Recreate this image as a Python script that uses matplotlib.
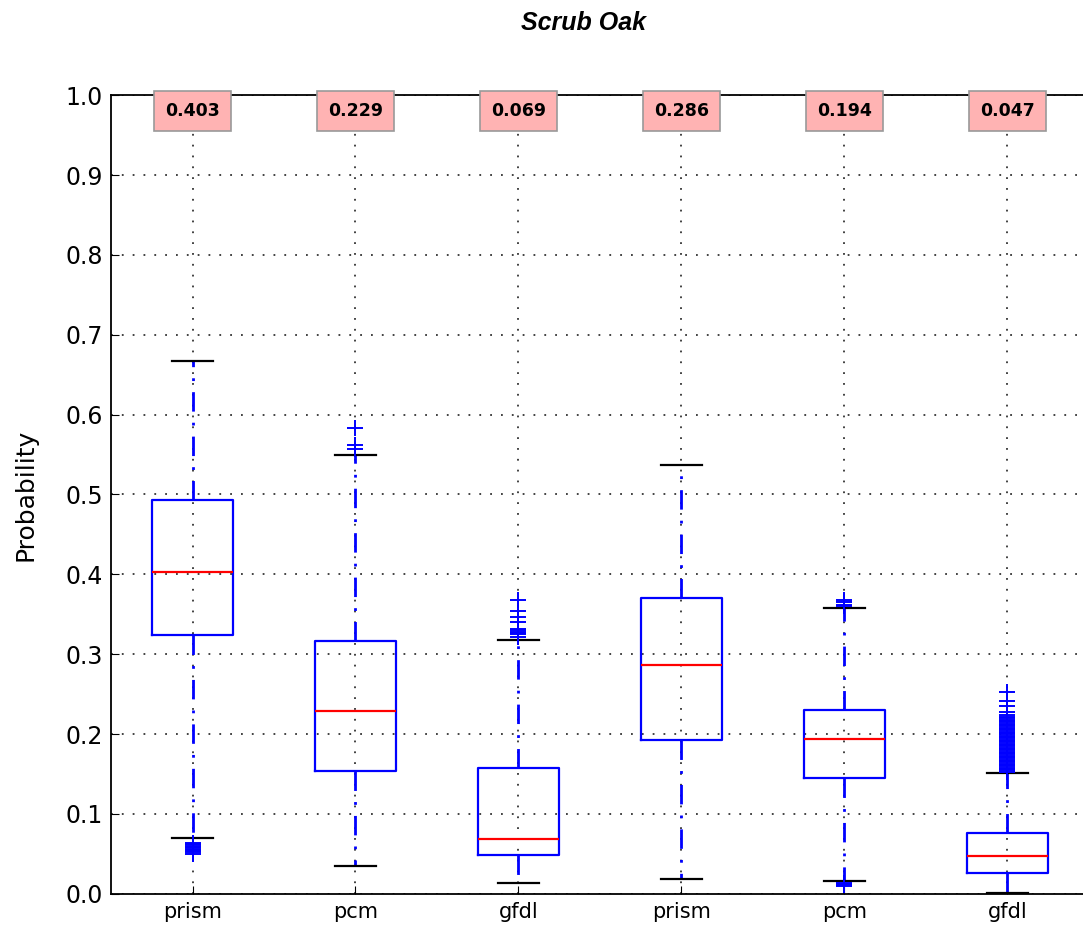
import matplotlib
matplotlib.use('Agg')
import matplotlib.pyplot as plt

labels = ['prism', 'pcm', 'gfdl', 'prism', 'pcm', 'gfdl']
medians = [0.403, 0.229, 0.069, 0.286, 0.194, 0.047]
q1 = [0.324, 0.154, 0.049, 0.193, 0.145, 0.026]
q3 = [0.493, 0.317, 0.157, 0.370, 0.230, 0.076]
whislo = [0.070, 0.035, 0.014, 0.019, 0.016, 0.001]
whishi = [0.667, 0.549, 0.318, 0.537, 0.358, 0.151]
fliers = [
    [0.050, 0.052, 0.053, 0.055, 0.056, 0.058, 0.059, 0.061, 0.062, 0.064],
    [0.557, 0.562, 0.583],
    [0.322, 0.325, 0.327, 0.328, 0.330, 0.331, 0.340, 0.346, 0.354, 0.368],
    [],
    [0.360, 0.362, 0.365, 0.368, 0.010, 0.011, 0.012, 0.013],
    [0.153, 0.155, 0.156, 0.158, 0.160, 0.161, 0.163, 0.165, 0.166, 0.168,
     0.170, 0.171, 0.173, 0.175, 0.176, 0.178, 0.180, 0.181, 0.183, 0.185,
     0.186, 0.188, 0.190, 0.191, 0.193, 0.195, 0.196, 0.198, 0.200, 0.201,
     0.203, 0.205, 0.206, 0.208, 0.210, 0.211, 0.213, 0.215, 0.216, 0.218,
     0.220, 0.222, 0.224, 0.228, 0.235, 0.242, 0.253],
]
title = 'Scrub Oak'

stats = []
for i in range(len(labels)):
    stats.append({'med': medians[i], 'q1': q1[i], 'q3': q3[i],
                  'whislo': whislo[i], 'whishi': whishi[i],
                  'fliers': fliers[i], 'label': labels[i]})

fig = plt.figure(figsize=(10.83, 9.33), dpi=100)
ax = fig.add_axes([0.1025, 0.042, 0.903, 0.856])

ax.bxp(stats, widths=0.5, capwidths=0.25,
       boxprops=dict(color='blue', linewidth=1.6),
       medianprops=dict(color='red', linewidth=1.6),
       whiskerprops=dict(color='blue', linewidth=2.0, linestyle=(0, (7, 4, 1, 4))),
       capprops=dict(color='black', linewidth=1.6),
       flierprops=dict(marker='+', markeredgecolor='blue', markersize=11,
                       markeredgewidth=1.4, linestyle='none'))

ax.set_ylim(0, 1.0)
ax.set_xlim(0.5, 6.5)
ax.set_yticks([0.0, 0.1, 0.2, 0.3, 0.4, 0.5, 0.6, 0.7, 0.8, 0.9, 1.0])
ax.tick_params(axis='y', labelsize=17, direction='in', length=6, pad=6)
ax.tick_params(axis='x', labelsize=15, direction='in', length=6, pad=6)
ax.grid(True, linestyle=(0, (1, 5)), color='black', linewidth=1.3, alpha=0.8)
for s in ax.spines.values():
    s.set_linewidth(1.3)

ax.set_ylabel('Probability', fontsize=18, labelpad=20)

for i, m in enumerate(medians):
    ax.text(i + 1, 0.98, '%.3f' % m, ha='center', va='center', fontsize=12.5,
            fontweight='bold',
            bbox=dict(boxstyle='square,pad=0.62', facecolor='#ffb3b3',
                      edgecolor='#999999', linewidth=1.2))

fig.text(0.539, 0.975, title, ha='center', va='center', fontsize=18,
         fontweight='bold', fontstyle='italic', family='Liberation Sans')

fig.savefig('out.png', dpi=100)
